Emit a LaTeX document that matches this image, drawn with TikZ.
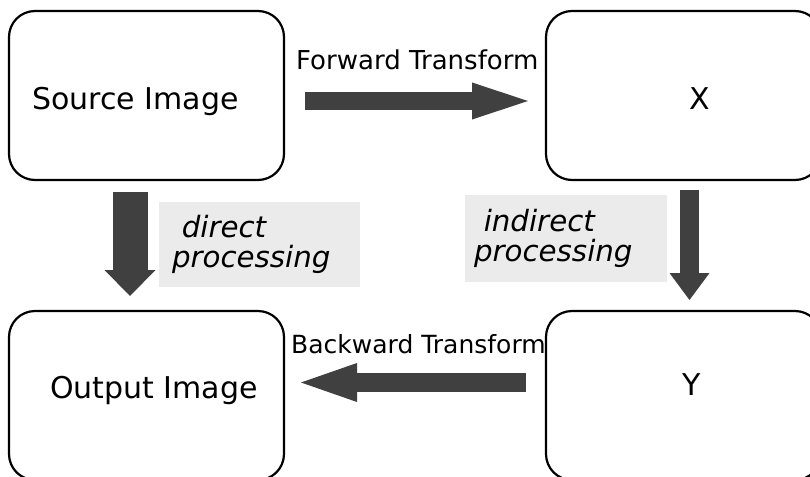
\documentclass[tikz,border=0pt]{standalone}
\usepackage{fontspec}
\setmainfont{DejaVu Sans}
\usetikzlibrary{arrows.meta}
\definecolor{arrowgray}{HTML}{404040}
\definecolor{notegray}{HTML}{EBEBEB}
\begin{document}
\begin{tikzpicture}[x=1pt,y=-1pt,
  imgbox/.style={draw=black, line width=2.2pt, rounded corners=26pt,
    minimum width=275pt, minimum height=169pt, inner sep=0pt},
  boxtext/.style={font=\fontsize{30}{34}\selectfont, inner sep=0pt, anchor=base},
  xformtext/.style={font=\fontsize{26}{30}\selectfont, inner sep=0pt, anchor=base west},
  notebox/.style={fill=notegray, inner ysep=0pt, align=left,
    font=\fontsize{29.3}{30}\selectfont\itshape},
  blockarrow/.style args={#1/#2/#3}{draw=arrowgray, line width=#1,
    -{Triangle[length=#3, width=#2, line width=0pt]}}
]
\useasboundingbox (0,0) rectangle (810,476);
\clip (0,0) rectangle (810,476);

% the four stages
\node[imgbox] (src)  at (146.5,95.5)  {};
\node[imgbox] (xbox) at (683.5,95.5)  {};
\node[imgbox] (out)  at (146.5,395.5) {};
\node[imgbox] (ybox) at (683.5,395.5) {};

\node[boxtext] (srctxt) at (135.5,110) {Source Image};
\node[boxtext] (xtxt)   at (700,110)   {X};
\node[boxtext] (outtxt) at (154,398)   {Output Image};
\node[boxtext] (ytxt)   at (692,395)   {Y};

% transform labels
\node[xformtext] (fwdtxt) at (296,70)  {Forward Transform};
\node[xformtext, font=\fontsize{25}{30}\selectfont] (bwdtxt) at (291,353) {Backward Transform};

% processing notes
\node[notebox, inner xsep=13pt, text width=175pt, minimum height=85pt]
  (direct) at (259.5,244.5) {\ direct\\processing};
\node[notebox, inner xsep=9pt, text width=184pt, minimum height=87pt]
  (indirect) at (566,238.5) {\ indirect\\processing};

% block arrows
\coordinate (fwdS) at (305,101);
\coordinate (fwdE) at (528,101);
\coordinate (dirS) at (130,192);
\coordinate (dirE) at (130,296);
\coordinate (indS) at (689.5,190);
\coordinate (indE) at (689.5,300);
\coordinate (bwdS) at (526,382.5);
\coordinate (bwdE) at (301,382.5);

\draw[blockarrow=18pt/37pt/56pt] (fwdS) -- (fwdE);
\draw[blockarrow=35pt/51pt/26pt] (dirS) -- (dirE);
\draw[blockarrow=19pt/40pt/27pt] (indS) -- (indE);
\draw[blockarrow=19pt/39pt/56pt] (bwdS) -- (bwdE);
\end{tikzpicture}
\end{document}
